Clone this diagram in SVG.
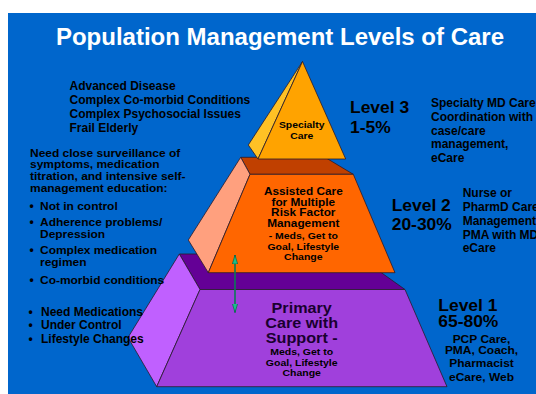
<svg xmlns="http://www.w3.org/2000/svg" width="536" height="394" viewBox="0 0 536 394">
  <style>
    .title { font-family: "Liberation Sans", Arial, sans-serif; font-weight: bold; font-size: 24px; fill: #ffffff; }
    .note { font-family: "Liberation Sans", Arial, sans-serif; font-weight: bold; font-size: 12px; fill: #000000; }
    .note-s { font-family: "Liberation Sans", Arial, sans-serif; font-weight: bold; font-size: 10.5px; fill: #000000; }
    .note-m { font-family: "Liberation Sans", Arial, sans-serif; font-weight: bold; font-size: 11px; fill: #000000; text-anchor: middle; }
    .lvl { font-family: "Liberation Sans", Arial, sans-serif; font-weight: bold; font-size: 16px; fill: #000000; }
    .in-big { font-family: "Liberation Sans", Arial, sans-serif; font-weight: bold; font-size: 14.6px; fill: #1a0030; text-anchor: middle; }
    .in-mid { font-family: "Liberation Sans", Arial, sans-serif; font-weight: bold; font-size: 10.2px; fill: #000000; text-anchor: middle; }
    .in-sm { font-family: "Liberation Sans", Arial, sans-serif; font-weight: bold; font-size: 9.2px; fill: #000000; text-anchor: middle; }
    .mid { text-anchor: middle; }
    .edge { stroke: #2a1a2a; stroke-width: 0.8; stroke-linejoin: round; }
  </style>
  <defs>
    <marker id="head" viewBox="0 0 10 6" refX="10" refY="3" markerWidth="9" markerHeight="6" markerUnits="userSpaceOnUse" orient="auto-start-reverse">
      <path d="M0 0 L10 3 L0 6 Z" fill="#19c08a" stroke="#0a5a40" stroke-width="0.7"/>
    </marker>
  </defs>

  <!-- slide background -->
  <rect x="0" y="0" width="536" height="394" fill="#ffffff"/>
  <rect x="8" y="13" width="528" height="381" fill="#0066cc"/>

  <text class="title mid" x="280" y="45">Population Management Levels of Care</text>

  <!-- base tier: primary care -->
  <g id="level1">
    <polygon class="edge" points="179.3,254 355,254 405,289.5 200,289.5" fill="#640096"/>
    <polygon class="edge" points="179.3,254 128,337.5 156.7,386.7 200,289.5" fill="#c060ff"/>
    <polygon class="edge" points="200,289.5 405,289.5 447,386.7 156.7,386.7" fill="#a040dc"/>
    <text class="in-big" transform="translate(301.7 313.3) scale(1.11 1)">Primary</text>
    <text class="in-big" transform="translate(301.7 327.8) scale(1.11 1)">Care with</text>
    <text class="in-big" transform="translate(301.7 342.7) scale(1.11 1)">Support -</text>
    <text class="in-sm" transform="translate(301.7 355) scale(1.14 1)">Meds, Get to</text>
    <text class="in-sm" transform="translate(301.7 365.7) scale(1.14 1)">Goal, Lifestyle</text>
    <text class="in-sm" transform="translate(301.7 375.5) scale(1.14 1)">Change</text>
  </g>

  <!-- middle tier: assisted care -->
  <g id="level2">
    <polygon class="edge" points="240.7,157.3 325,157.3 353.3,174.3 250,174.3" fill="#c04000"/>
    <polygon class="edge" points="240.7,157.3 188.3,240 208.3,272.7 250,174.3" fill="#ffa07e"/>
    <polygon class="edge" points="250,174.3 353.3,174.3 395,272.7 208.3,272.7" fill="#ff6600"/>
    <text class="in-mid" transform="translate(303.3 195) scale(1.16 1)">Assisted Care</text>
    <text class="in-mid" transform="translate(303.3 205.8) scale(1.16 1)">for Multiple</text>
    <text class="in-mid" transform="translate(303.3 216.3) scale(1.16 1)">Risk Factor</text>
    <text class="in-mid" transform="translate(303.3 226.7) scale(1.16 1)">Management</text>
    <text class="in-sm" transform="translate(303.3 239.3) scale(1.14 1)">- Meds, Get to</text>
    <text class="in-sm" transform="translate(303.3 250) scale(1.14 1)">Goal, Lifestyle</text>
    <text class="in-sm" transform="translate(303.3 260) scale(1.14 1)">Change</text>
  </g>

  <!-- top tier: specialty care -->
  <g id="level3">
    <polygon class="edge" points="302.5,61.5 248.3,145 258,159" fill="#ffc125"/>
    <polygon class="edge" points="302.5,61.5 345.7,159 258,159" fill="#ffa300"/>
    <text class="in-sm" transform="translate(301.7 127.7) scale(1.13 1)">Specialty</text>
    <text class="in-sm" transform="translate(301.7 138.5) scale(1.13 1)">Care</text>
  </g>

  <!-- connector between the two lower tiers -->
  <g id="connectors">
    <line x1="235" y1="255" x2="235" y2="312.5" stroke="#0a7a55" stroke-width="1.6" marker-start="url(#head)" marker-end="url(#head)"/>
  </g>

  <!-- left-hand population descriptions -->
  <g id="desc-level3">
    <text class="note" x="69.5" y="90">Advanced Disease</text>
    <text class="note" x="69.5" y="104.3">Complex Co-morbid Conditions</text>
    <text class="note" x="69.5" y="118.3">Complex Psychosocial Issues</text>
    <text class="note" x="69.5" y="132.3">Frail Elderly</text>
  </g>

  <g id="desc-level2">
    <text class="note-s" transform="translate(30 156.7) scale(1.14 1)">Need close surveillance of</text>
    <text class="note-s" transform="translate(30 168.4) scale(1.14 1)">symptoms, medication</text>
    <text class="note-s" transform="translate(30 180.2) scale(1.14 1)">titration, and intensive self-</text>
    <text class="note-s" transform="translate(30 192.3) scale(1.14 1)">management education:</text>
    <text class="note" x="29.5" y="210">•</text>
    <text class="note-s" transform="translate(40 210) scale(1.14 1)">Not in control</text>
    <text class="note" x="29.5" y="225.7">•</text>
    <text class="note-s" transform="translate(40 225.7) scale(1.14 1)">Adherence problems/</text>
    <text class="note-s" transform="translate(40 238.3) scale(1.14 1)">Depression</text>
    <text class="note" x="29.5" y="254">•</text>
    <text class="note-s" transform="translate(40 254) scale(1.14 1)">Complex medication</text>
    <text class="note-s" transform="translate(40 266) scale(1.14 1)">regimen</text>
    <text class="note" x="29.5" y="284">•</text>
    <text class="note-s" transform="translate(40 284) scale(1.14 1)">Co-morbid conditions</text>
  </g>

  <g id="desc-level1">
    <text class="note" x="28.5" y="315.5">•</text>
    <text class="note" x="41" y="315.5">Need Medications</text>
    <text class="note" x="28.5" y="329.2">•</text>
    <text class="note" x="41" y="329.2">Under Control</text>
    <text class="note" x="28.5" y="342.8">•</text>
    <text class="note" x="41" y="342.8">Lifestyle Changes</text>
  </g>

  <!-- right-hand level labels and care models -->
  <g id="label-level3">
    <text class="lvl" transform="translate(350 113.3) scale(1.09 1)">Level 3</text>
    <text class="lvl" transform="translate(350 133.3) scale(1.09 1)">1-5%</text>
    <text class="note" x="431" y="107.3">Specialty MD Care</text>
    <text class="note" x="431" y="121">Coordination with</text>
    <text class="note" x="431" y="135">case/care</text>
    <text class="note" x="431" y="148.4">management,</text>
    <text class="note" x="431" y="161.8">eCare</text>
  </g>

  <g id="label-level2">
    <text class="lvl" transform="translate(391.7 211) scale(1.09 1)">Level 2</text>
    <text class="lvl" transform="translate(391.7 230) scale(1.09 1)">20-30%</text>
    <text class="note" x="462.7" y="197">Nurse or</text>
    <text class="note" x="462.7" y="211">PharmD Care</text>
    <text class="note" x="462.7" y="224.7">Management</text>
    <text class="note" x="462.7" y="238.5">PMA with MD</text>
    <text class="note" x="462.7" y="252">eCare</text>
  </g>

  <g id="label-level1">
    <text class="lvl" transform="translate(438.3 310.7) scale(1.09 1)">Level 1</text>
    <text class="lvl" transform="translate(438.3 327.3) scale(1.09 1)">65-80%</text>
    <text class="note-m" transform="translate(481.5 342.7) scale(1.09 1)">PCP Care,</text>
    <text class="note-m" transform="translate(481.5 354.3) scale(1.09 1)">PMA, Coach,</text>
    <text class="note-m" transform="translate(481.5 367.3) scale(1.09 1)">Pharmacist</text>
    <text class="note-m" transform="translate(481.5 381) scale(1.09 1)">eCare, Web</text>
  </g>
</svg>
